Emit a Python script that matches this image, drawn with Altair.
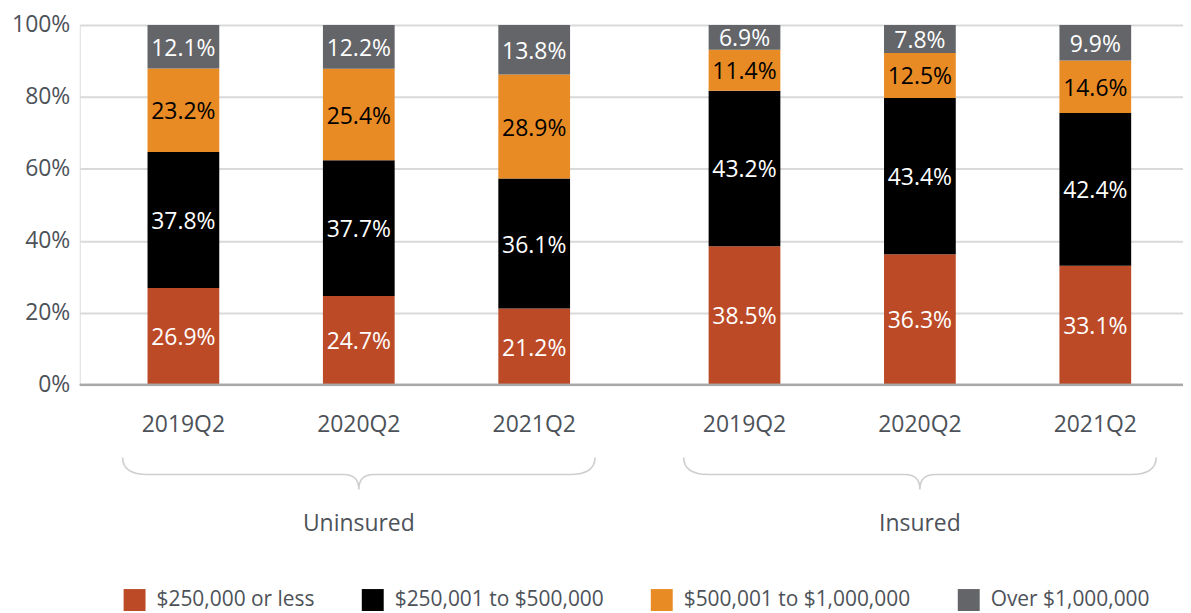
import altair as alt
import pandas as pd

groups = ["Uninsured", "Insured"]
periods = ["2019Q2", "2020Q2", "2021Q2"]
bands = ["$250,000 or less", "$250,001 to $500,000", "$500,001 to $1,000,000", "Over $1,000,000"]
colors = ["#BC4A27", "#000000", "#E98B25", "#636569"]
text_colors = ["#FFFFFF", "#FFFFFF", "#000000", "#FFFFFF"]

# shares per band, order: Uninsured 2019Q2, 2020Q2, 2021Q2, Insured 2019Q2, 2020Q2, 2021Q2
share_250k = [26.9, 24.7, 21.2, 38.5, 36.3, 33.1]
share_500k = [37.8, 37.7, 36.1, 43.2, 43.4, 42.4]
share_1m = [23.2, 25.4, 28.9, 11.4, 12.5, 14.6]
share_over = [12.1, 12.2, 13.8, 6.9, 7.8, 9.9]

series = [share_250k, share_500k, share_1m, share_over]
rows = []
for bi, (band, vals) in enumerate(zip(bands, series)):
    i = 0
    for g in groups:
        for p in periods:
            rows.append({"group": g, "period": p, "band": band, "order": bi,
                         "value": vals[i], "tc": text_colors[bi]})
            i += 1
df = pd.DataFrame(rows)
cats = pd.DataFrame([{"group": g, "period": p} for g in groups for p in periods])
grp = pd.DataFrame({"group": groups})

FONT = "Open Sans"
TXT = "#4D5259"
W, H = 1107, 361

xscale = alt.Scale(domain=groups, paddingInner=0.0622, paddingOuter=0.0142, align=1)
xoff = alt.Scale(domain=periods, paddingInner=0.591, paddingOuter=0.2955)

base = alt.Chart(df).transform_stack(
    stack="value", groupby=["group", "period"],
    sort=[alt.SortField("order", order="ascending")], as_=["y0", "y1"]
).transform_calculate(mid="(datum.y0 + datum.y1) / 2",
                      lbl="format(datum.value, '.1f') + '%'")

bars = base.mark_bar().encode(
    x=alt.X("group:N", scale=xscale, axis=None, sort=groups),
    xOffset=alt.XOffset("period:N", scale=xoff, sort=periods),
    y=alt.Y("y0:Q", scale=alt.Scale(domain=[0, 100]),
            axis=alt.Axis(values=[0, 20, 40, 60, 80, 100], labelExpr="datum.value + '%'",
                          title=None, ticks=False, domain=False, grid=True,
                          gridColor="#D9D9D9", gridWidth=2, labelFontSize=23,
                          labelColor=TXT, labelPadding=10, labelFont=FONT)),
    y2="y1:Q",
    color=alt.Color("band:N", scale=alt.Scale(domain=bands, range=colors),
                    legend=alt.Legend(title=None, orient="none", legendX=44, legendY=566,
                                      direction="horizontal", columns=4,
                                      symbolType="square", symbolSize=484,
                                      symbolStrokeWidth=0, labelFontSize=21,
                                      labelColor=TXT, labelFont=FONT, labelLimit=500,
                                      columnPadding=47, labelOffset=11)),
)

labels = base.mark_text(font=FONT, fontSize=23, baseline="middle", dy=2).encode(
    x=alt.X("group:N", scale=xscale, sort=groups),
    xOffset=alt.XOffset("period:N", scale=xoff, sort=periods),
    y=alt.Y("mid:Q"),
    text="lbl:N",
    color=alt.Color("tc:N", scale=None),
)

baseline = alt.Chart(grp).mark_rule(color="#A6A6A6", strokeWidth=2).encode(
    y=alt.datum(0), x=alt.value(0), x2=alt.value(W)
)

period_labels = alt.Chart(cats).mark_text(font=FONT, fontSize=23, color=TXT,
                                          baseline="middle").encode(
    x=alt.X("group:N", scale=xscale, sort=groups),
    xOffset=alt.XOffset("period:N", scale=xoff, sort=periods),
    y=alt.value(401),
    text="period:N",
)

brace_path = ("M -1,0 Q -1,0.0717 -0.8945,0.0717 L -0.0633,0.0717 Q 0,0.0717 0,0.135 "
              "Q 0,0.0717 0.0633,0.0717 L 0.8945,0.0717 Q 1,0.0717 1,0")
braces = alt.Chart(grp).mark_point(shape=brace_path, size=474 * 474, filled=False,
                                   stroke="#CFCFCF", strokeWidth=1.6, opacity=1).encode(
    x=alt.X("group:N", scale=xscale, sort=groups),
    y=alt.value(434),
)

group_labels = alt.Chart(grp).mark_text(font=FONT, fontSize=23, color=TXT,
                                        baseline="middle").encode(
    x=alt.X("group:N", scale=xscale, sort=groups),
    y=alt.value(501),
    text="group:N",
)

chart = alt.layer(bars, baseline, labels, period_labels, braces, group_labels).properties(
    width=W, height=H,
    autosize=alt.AutoSizeParams(type="none"),
    padding={"left": 72, "top": 16, "right": 0, "bottom": 228},
).configure_view(stroke=None).configure(font=FONT)

chart.save("out.html", embed_options={"renderer": "svg", "actions": False})
